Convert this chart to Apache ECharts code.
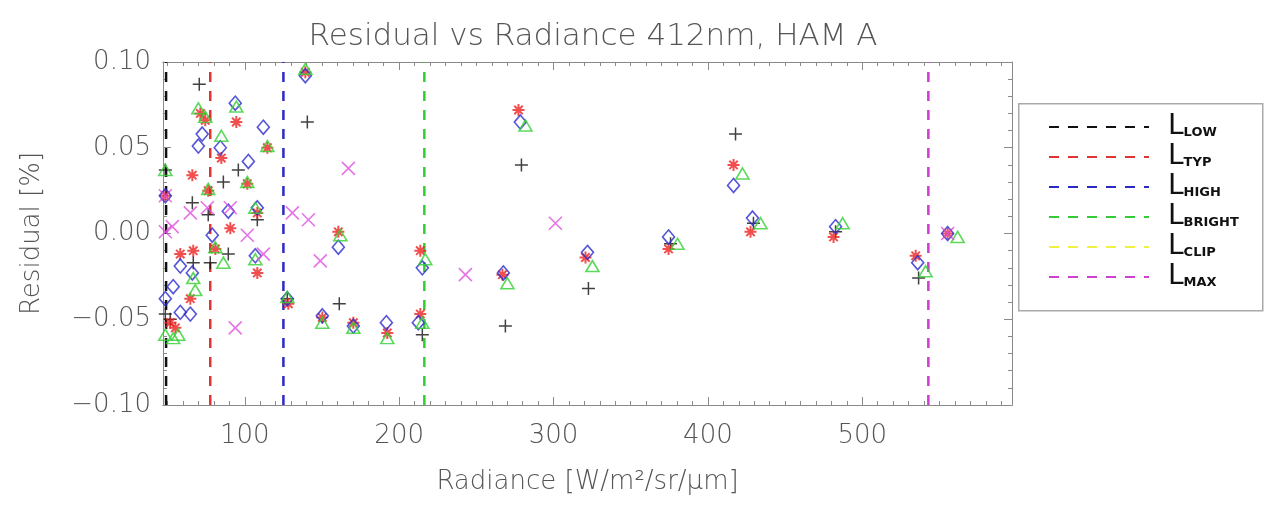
<!DOCTYPE html>
<html>
<head>
<meta charset="utf-8">
<script src="https://cdn.jsdelivr.net/npm/echarts@6/dist/echarts.min.js"></script>
<style>
  html, body { margin: 0; padding: 0; background: #fff; }
  #chart { width: 1269px; height: 508px; }
</style>
</head>
<body>
<div id="chart"></div>
<script>
// [radiance W/m2/sr/um, residual %]
var plusPts = [[70.5,0.087],[95.8,0.037],[86.1,0.030],[66.0,0.018],[76.3,0.011],[108.1,0.008],[89.3,-0.012],[77.6,-0.017],[66.6,-0.017],[48.5,-0.047],[48.5,0.037],[51.7,-0.050],
  [140.5,0.065],[161.2,-0.041],[127.5,-0.038],[215.0,-0.059],[268.8,-0.054],[279.2,0.040],[322.6,-0.032],[375.8,-0.006],[417.9,0.058],[429.5,0.006],[482.7,0.001],[536.5,-0.026]];
var starPts = [[71.2,0.070],[74.4,0.066],[94.5,0.065],[84.8,0.044],[114.6,0.050],[66.0,0.034],[76.3,0.025],[101.6,0.029],[108.1,0.012],[90.6,0.003],[80.9,-0.009],[58.2,-0.012],
  [66.6,-0.010],[108.1,-0.023],[64.7,-0.038],[51.7,-0.052],[55.0,-0.055],[48.5,0.022],[139.2,0.094],[128.2,-0.041],[160.6,0.001],[150.2,-0.049],[170.3,-0.052],[192.3,-0.058],
  [213.7,-0.010],[213.7,-0.047],[266.9,-0.024],[277.3,0.072],[320.7,-0.014],[374.5,-0.009],[416.6,0.040],[427.6,0.001],[481.4,-0.002],[534.6,-0.013],[555.3,0.000]];
var diamondPts = [[93.8,0.076],[112.0,0.062],[72.4,0.058],[69.9,0.051],[84.1,0.050],[102.3,0.042],[48.5,0.022],[89.3,0.013],[108.1,0.015],[78.9,-0.001],[106.8,-0.013],[58.2,-0.019],
  [66.0,-0.023],[53.6,-0.031],[48.5,-0.038],[58.2,-0.046],[64.7,-0.047],[139.2,0.092],[160.6,-0.008],[127.5,-0.038],[150.2,-0.048],[170.3,-0.054],[191.7,-0.052],[215.0,-0.020],
  [212.4,-0.052],[267.5,-0.023],[278.5,0.065],[322.0,-0.011],[374.5,-0.002],[416.6,0.028],[428.9,0.009],[482.7,0.004],[535.9,-0.017],[555.3,0.000]];
var trianglePts = [[69.9,0.073],[74.4,0.068],[94.5,0.074],[84.8,0.057],[114.6,0.051],[48.5,0.037],[76.3,0.026],[101.6,0.030],[106.8,0.015],[80.9,-0.008],[86.1,-0.017],[66.6,-0.026],
  [67.9,-0.033],[106.8,-0.015],[53.6,-0.061],[56.9,-0.059],[48.5,-0.059],[139.2,0.096],[161.9,-0.001],[127.5,-0.037],[150.2,-0.052],[170.3,-0.055],[192.3,-0.061],[216.9,-0.015],
  [215.0,-0.052],[270.1,-0.029],[281.8,0.063],[325.2,-0.019],[380.3,-0.006],[422.4,0.035],[434.1,0.006],[487.3,0.006],[541.0,-0.022],[561.8,-0.002]];
var crossPts = [[90.6,0.015],[75.7,0.015],[64.7,0.012],[53.0,0.004],[48.5,0.001],[101.6,-0.001],[112.0,-0.012],[93.8,-0.055],[130.8,0.012],[141.2,0.008],[167.1,0.038],
  [148.9,-0.016],[242.9,-0.024],[301.2,0.006],[555.3,0.000],[48.5,0.022]];

// radiance levels
var limitNames = ['LOW', 'TYP', 'HIGH', 'BRIGHT', 'CLIP', 'MAX'];
var limitValues = [49, 77.6, 125, 216.3, 542.8, 542.8];
var limitColors = ['#111111', '#e03333', '#2a2ac4', '#33cc33', '#f0f040', '#d040d0'];

var xMajorTicks = [100, 200, 300, 400, 500];
var xMinorTicks = [];
for (var t = 50; t <= 590; t += 10) xMinorTicks.push(t);

var X_MIN = 47, X_MAX = 597, Y_MIN = -0.1, Y_MAX = 0.1;
var axisGray = '#8a8a8a';
var textGray = '#555';
var font = 'DejaVu Sans';

function xAxisPart(pos, ticks, len, withLabel) {
  var ax = {
    type: 'value', min: X_MIN, max: X_MAX, position: pos,
    splitLine: { show: false },
    axisLine: { show: true, onZero: false, lineStyle: { color: axisGray, width: 1 } },
    axisTick: { show: true, inside: true, length: len, customValues: ticks, lineStyle: { color: axisGray } },
    axisLabel: { show: false }
  };
  if (withLabel) {
    ax.axisLabel = { show: true, customValues: ticks, margin: 18, color: textGray, fontSize: 26, fontWeight: 200, fontFamily: font };
    ax.name = 'Radiance [W/m²/sr/μm]';
    ax.nameLocation = 'middle';
    ax.nameGap = 64;
    ax.nameTextStyle = { color: textGray, fontSize: 26, fontWeight: 200, fontFamily: font };
  }
  return ax;
}

function yAxisPart(pos, withLabel) {
  var ax = {
    type: 'value', min: Y_MIN, max: Y_MAX, interval: 0.05, position: pos,
    splitLine: { show: false },
    axisLine: { show: true, onZero: false, lineStyle: { color: axisGray, width: 1 } },
    axisTick: { show: true, inside: true, length: 8, lineStyle: { color: axisGray } },
    minorTick: { show: true, splitNumber: 5, length: 4, lineStyle: { color: axisGray } },
    axisLabel: { show: false }
  };
  if (withLabel) {
    ax.axisLabel = {
      show: true, margin: 12, color: textGray, fontSize: 26, fontWeight: 200, fontFamily: font,
      formatter: function (v) {
        if (Math.abs(v) < 1e-9) return '0.00';
        return v.toFixed(2).replace('-', '−');
      }
    };
    ax.name = 'Residual [%]';
    ax.nameLocation = 'middle';
    ax.nameGap = 118;
    ax.nameTextStyle = { color: textGray, fontSize: 26, fontWeight: 200, fontFamily: font };
  }
  return ax;
}

function markSeries(name, symbol, size, color, width, data) {
  return {
    name: name, type: 'scatter', data: data, symbol: symbol, symbolSize: size,
    itemStyle: { color: 'rgba(0,0,0,0)', borderColor: color, borderWidth: width },
    silent: true, z: 3
  };
}

var series = [];
limitNames.forEach(function (n, i) {
  series.push({
    name: n, type: 'line', symbol: 'none', silent: true, z: 2,
    data: [[limitValues[i], Y_MIN], [limitValues[i], Y_MAX]],
    lineStyle: { color: limitColors[i], width: 2.5, type: [10, 9] },
    itemStyle: { color: limitColors[i] }
  });
});
series.push(markSeries('plus', 'path://M5,0L5,10M0,5L10,5', 13, '#111', 1.5, plusPts));
series.push(markSeries('star', 'path://M5,0L5,10M0,5L10,5M1.5,1.5L8.5,8.5M8.5,1.5L1.5,8.5', 12, '#ee2222', 2, starPts));
series.push(markSeries('diamond', 'diamond', [12, 14], '#2a2ad0', 1.6, diamondPts));
series.push(markSeries('triangle', 'triangle', [13, 11], '#33d033', 1.6, trianglePts));
series.push(markSeries('cross', 'path://M0,0L10,10M10,0L0,10', 13, '#e050e0', 1.6, crossPts));

var chart = echarts.init(document.getElementById('chart'));
chart.setOption({
  animation: false,
  backgroundColor: '#fff',
  title: {
    text: 'Residual vs Radiance 412nm, HAM A',
    left: 588, top: 16, textAlign: 'center',
    textStyle: { color: textGray, fontSize: 31, fontWeight: 200, fontFamily: font }
  },
  grid: { left: 163, right: 257, top: 62, bottom: 103 },
  xAxis: [
    xAxisPart('bottom', xMajorTicks, 8, true),
    xAxisPart('bottom', xMinorTicks, 4, false),
    xAxisPart('top', xMajorTicks, 8, false),
    xAxisPart('top', xMinorTicks, 4, false)
  ],
  yAxis: [yAxisPart('left', true), yAxisPart('right', false)],
  legend: {
    orient: 'vertical', left: 1018, top: 103,
    padding: [10, 20, 12, 30], itemWidth: 100, itemHeight: 14, itemGap: 2,
    data: limitNames,
    selectedMode: false,
    itemStyle: { opacity: 0 },
    formatter: function (n) { return '{l|L}{s|' + n + '}'; },
    textStyle: {
      rich: {
        l: { fontSize: 28, color: '#111', lineHeight: 30, fontFamily: font, padding: [0, 0, 0, 14] },
        s: { fontSize: 13, fontWeight: 'bold', color: '#111', fontFamily: font, padding: [12, 0, 0, 0] }
      }
    }
  },
  graphic: [{
    type: 'rect', left: 1018, top: 103, z: -1,
    shape: { width: 244, height: 207 },
    style: { fill: '#fff', stroke: '#aaa', lineWidth: 1.5 }
  }],
  series: series
});
</script>
</body>
</html>
